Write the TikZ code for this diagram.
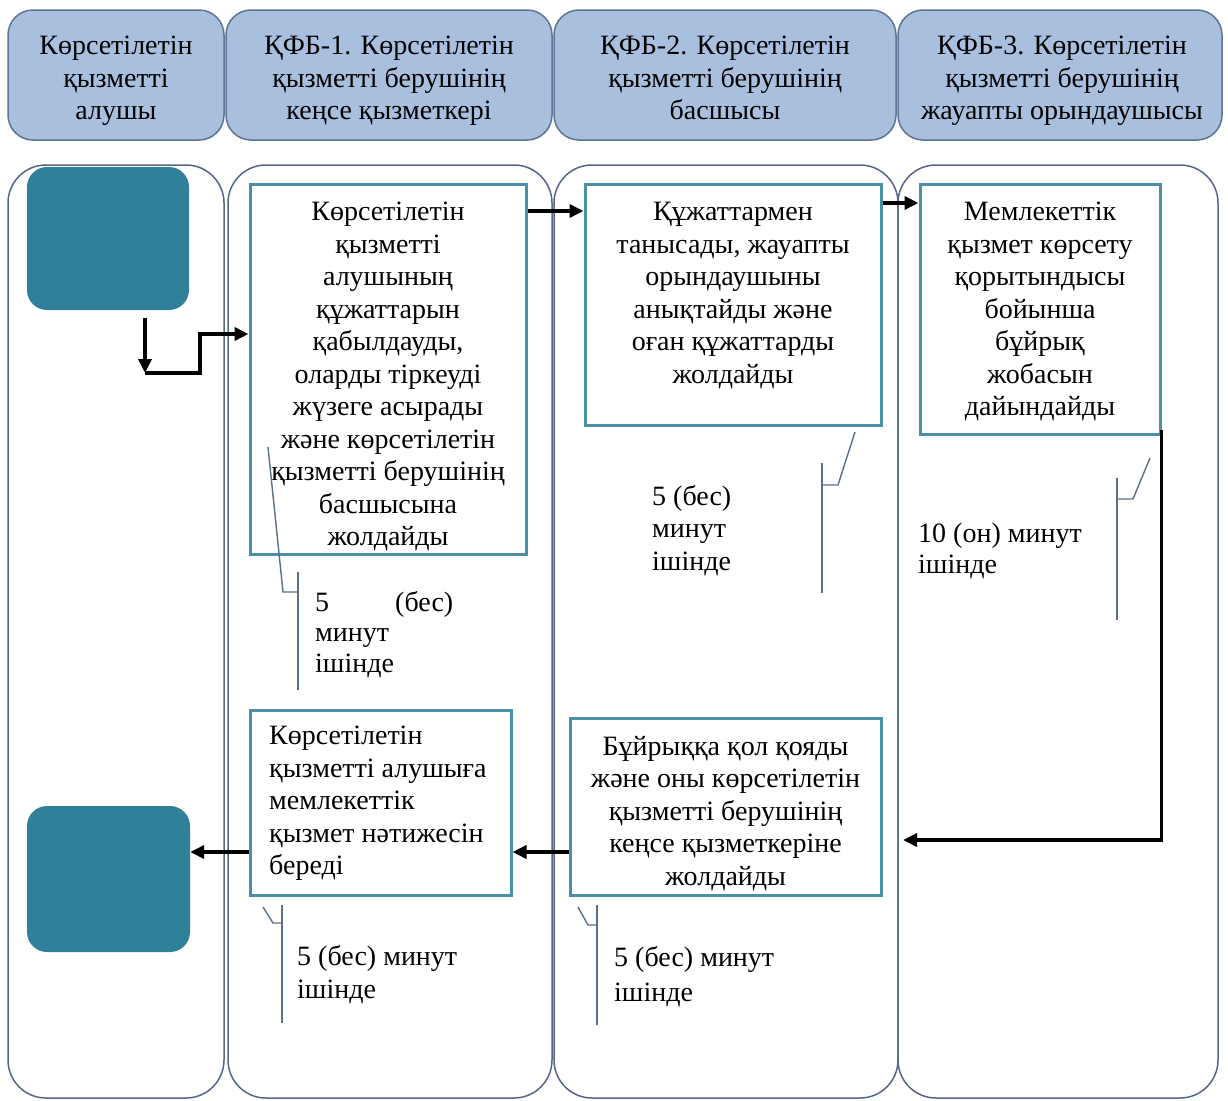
\documentclass[tikz,border=0pt]{standalone}
\usepackage{fontspec}
\setmainfont{Liberation Serif}
\usetikzlibrary{arrows.meta,calc}
\definecolor{hdrfill}{HTML}{A8C0DD}
\definecolor{hdrline}{HTML}{5F7395}
\definecolor{laneline}{HTML}{56668A}
\definecolor{tealfill}{HTML}{31809A}
\definecolor{boxline}{HTML}{4A90A6}
\definecolor{callline}{HTML}{5A6D8A}
\begin{document}
\begin{tikzpicture}[x=1pt,y=-1pt,
  font=\fontsize{28}{32.5}\selectfont,
  hdr/.style={draw=hdrline,line width=1.5pt,fill=hdrfill,rounded corners=25pt,align=center,inner sep=0pt},
  lane/.style={draw=laneline,line width=1.5pt,rounded corners=38pt,inner sep=0pt},
  term/.style={fill=tealfill,rounded corners=20pt,inner sep=0pt},
  stepbox/.style={draw=boxline,line width=3pt,fill=white,inner sep=0pt},
  btxt/.style={align=center,inner sep=0pt,anchor=north},
  ctxt/.style={align=left,inner sep=0pt,anchor=north west},
  arr/.style={line width=3.5pt,-{Triangle[length=14pt,width=13pt]}},
  call/.style={draw=callline,line width=1.4pt}]
\useasboundingbox (0,0) rectangle (1228,1100);
% headers
\node[hdr,minimum width=216pt,minimum height=130pt] (h1) at (116,75) {};
\node[hdr,minimum width=326pt,minimum height=130pt] (h2) at (389,75) {};
\node[hdr,minimum width=342pt,minimum height=130pt] (h3) at (725,75) {};
\node[hdr,minimum width=324pt,minimum height=130pt] (h4) at (1060,75) {};
\node[btxt] (h1t) at (116,36) {Көрсетілетін\\қызметті\\алушы};
\node[btxt] (h2t) at (389,36) {ҚФБ-1. Көрсетілетін\\қызметті берушінің\\кеңсе қызметкері};
\node[btxt] (h3t) at (725,36) {ҚФБ-2. Көрсетілетін\\қызметті берушінің\\басшысы};
\node[btxt] (h4t) at (1062,36) {ҚФБ-3. Көрсетілетін\\қызметті берушінің\\жауапты орындаушысы};
% lanes
\node[lane,minimum width=216pt,minimum height=933pt] (l1) at (116,631.5) {};
\node[lane,minimum width=324pt,minimum height=933pt] (l2) at (390,631.5) {};
\node[lane,minimum width=344pt,minimum height=933pt] (l3) at (726,631.5) {};
\node[lane,minimum width=320pt,minimum height=933pt] (l4) at (1058,631.5) {};
% terminals
\node[term,minimum width=162pt,minimum height=143pt] (t1) at (108,238.5) {};
\node[term,minimum width=163pt,minimum height=146pt] (t2) at (108.5,879) {};
% boxes
\node[stepbox,minimum width=276pt,minimum height=370pt] (b1) at (388,369) {};
\node[stepbox,minimum width=296pt,minimum height=241pt] (b2) at (733,304.5) {};
\node[stepbox,minimum width=240pt,minimum height=250pt] (b3) at (1040,309) {};
\node[stepbox,minimum width=261pt,minimum height=185pt] (b4) at (380.5,802.5) {};
\node[stepbox,minimum width=311pt,minimum height=177pt] (b5) at (725.5,806.5) {};
\node[btxt] (b1t) at (388,202) {Көрсетілетін\\қызметті\\алушының\\құжаттарын\\қабылдауды,\\оларды тіркеуді\\жүзеге асырады\\және көрсетілетін\\қызметті берушінің\\басшысына\\жолдайды};
\node[btxt] (b2t) at (733,202) {Құжаттармен\\танысады, жауапты\\орындаушыны\\анықтайды және\\оған құжаттарды\\жолдайды};
\node[btxt] (b3t) at (1040,202) {Мемлекеттік\\қызмет көрсету\\қорытындысы\\бойынша\\бұйрық\\жобасын\\дайындайды};
\node[ctxt] (b4t) at (269,726) {Көрсетілетін\\қызметті алушыға\\мемлекеттік\\қызмет нәтижесін\\береді};
\node[btxt] (b5t) at (725.5,736) {Бұйрыққа қол қояды\\және оны көрсетілетін\\қызметті берушінің\\кеңсе қызметкеріне\\жолдайды};
% arrows
\coordinate (s1) at (145,318);
\coordinate (s2) at (145,373);
\coordinate (s3) at (200,373);
\coordinate (s4) at (200,334);
\draw[arr] (s1) -- (s2);
\draw[arr] (s2) -- (s3) -- (s4) -- (s4 -| b1.west);
\coordinate (y12) at (0,211);
\coordinate (y23) at (0,203);
\coordinate (y54) at (0,852);
\coordinate (e5) at (903,840);
\draw[arr] (b1.east |- y12) -- (b2.west |- y12);
\draw[arr] (b2.east |- y23) -- (b3.west |- y23);
\draw[arr] ($(b3.south east)+(0,-6)$) -- (b3.south east |- e5) -- (e5);
\draw[arr] (b5.west |- y54) -- (b4.east |- y54);
\draw[arr] (b4.west |- y54) -- (t2.east |- y54);
% callouts
\draw[call] (268,447) -- (283,592) -- (298,592);
\draw[call] (298,572) -- (298,690);
\draw[call] (855,432) -- (838,485) -- (822,485);
\draw[call] (822,463) -- (822,593);
\draw[call] (1150,458) -- (1133,499) -- (1117,499);
\draw[call] (1117,478) -- (1117,620);
\draw[call] (263,907) -- (273,923) -- (282,923);
\draw[call] (282,905) -- (282,1023);
\draw[call] (578,907) -- (588,925) -- (597,925);
\draw[call] (597,905) -- (597,1025);
\node[ctxt,font=\fontsize{28}{30.5}\selectfont] (c1) at (315,591) {5\hspace{66pt}(бес)\\минут\\ішінде};
\node[ctxt] (c2) at (652,485) {5 (бес)\\минут\\ішінде};
\node[ctxt,font=\fontsize{28}{31}\selectfont] (c3) at (918,523) {10 (он) минут\\ішінде};
\node[ctxt,font=\fontsize{28}{33}\selectfont] (c4) at (297,945) {5 (бес) минут\\ішінде};
\node[ctxt,font=\fontsize{28}{35}\selectfont] (c5) at (614,946) {5 (бес) минут\\ішінде};
\end{tikzpicture}
\end{document}
